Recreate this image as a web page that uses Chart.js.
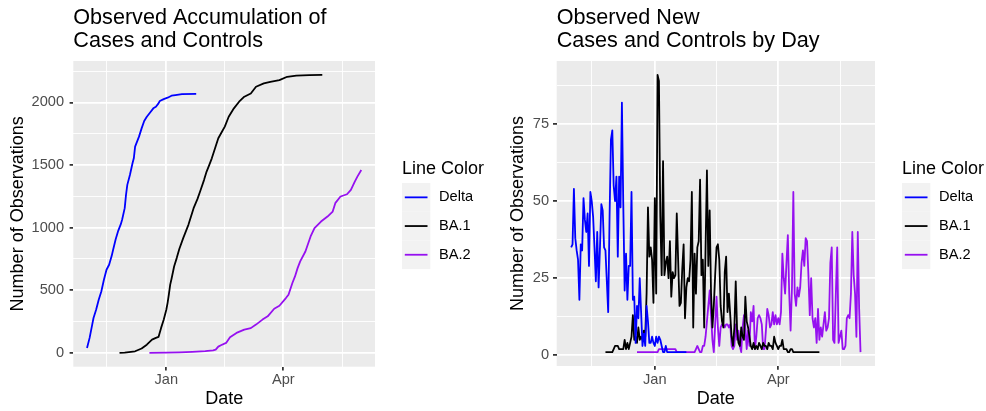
<!DOCTYPE html>
<html>
<head>
<meta charset="utf-8">
<title>Observed cases and controls</title>
<script src="https://cdn.jsdelivr.net/npm/chart.js@4.4.1/dist/chart.umd.min.js"></script>
<style>
  html, body { margin: 0; padding: 0; background: #ffffff; }
  #wrap { position: relative; width: 986px; height: 411px; }
  canvas { position: absolute; top: 0; }
  #accChart { left: 0; }
  #newChart { left: 493px; }
</style>
</head>
<body>
<div id="wrap">
  <canvas id="accChart" width="493" height="411"></canvas>
  <canvas id="newChart" width="493" height="411"></canvas>
</div>
<script>
// Days are counted from 1 Jan 2022 (day 0)
const dayMin = -71.55;
const dayMax = 160.55;
const monthDays = [0, 90];
const monthLabels = ["Jan", "Apr"];
const minorDays = [-46, 45, 135.5];

const seriesNames = ["Delta", "BA.1", "BA.2"];
const seriesColors = ["#0000FF", "#000000", "#9610F0"];

// New observations per day (right panel), first value is on the start day
const deltaStart = -61;
const deltaNew = [
  35, 36, 54, 38, 34, 31, 18, 36, 34, 51,
  44, 40, 46, 29, 53, 50, 45, 35, 24, 40,
  22, 35, 49, 47, 35, 34, 24, 14, 45, 70,
  73, 55, 50, 58, 32, 58, 48, 82, 49, 21,
  33, 18, 29, 29, 53, 18, 19, 4, 16, 12,
  25, 14, 3, 7, 3, 16, 11, 4, 4, 6,
  4, 3, 6, 4, 6, 5, 3, 1, 1, 3,
  1, 1, 1, 1, 1, 1, 1, 1, 1, 1,
  1, 1, 1, 1, 1
];

const ba1Start = -36;
const ba1New = [
  1, 1, 1, 1, 1, 1,
  2, 3, 3, 3, 2, 2, 2, 2,
  5, 2, 4, 2, 4, 6, 13, 5, 6, 4, 9, 5, 6, 5, 8, 6, 20,
  48, 32, 35, 31, 17, 51, 20, 91, 89,
  45, 26, 63, 26, 30, 32, 25, 37, 19, 27,
  25, 26, 46, 31, 16, 17, 28, 36, 12, 22,
  25, 24, 31, 53, 9, 33, 20, 35, 37, 57,
  26, 31, 9, 35, 60, 29, 47, 20, 9, 16,
  26, 35, 36, 31,
  16, 11, 9, 27, 32, 14, 20, 13, 6, 3,
  9, 24, 8, 4, 3, 9, 6, 5, 19, 11,
  9, 6, 3, 2, 4, 2, 3, 2, 4, 3,
  2, 4, 3, 3, 2, 4, 3, 3, 2, 6,
  4, 3, 2, 3, 3, 5, 2, 2, 2, 1,
  1, 2, 2, 1,
  1, 1, 1, 1, 1, 1, 1, 1, 1, 1,
  1, 1, 1, 1, 1, 1, 1, 1, 1
];

const ba2Start = -13;
const ba2New = [
  1, 1, 1, 1, 1, 1, 1, 1, 1, 1, 1, 1, 1, 1, 1, 1,
  2, 2, 2, 2, 2, 2, 2, 2, 2, 2, 2, 2, 2,
  1,
  1, 1, 1, 1, 1, 1, 1, 1, 1, 1, 1, 1, 1,
  2, 3, 2, 1, 1, 3,
  3, 6, 11, 16, 21, 13, 5, 1, 10, 19,
  9, 3, 9, 10, 10, 9, 10, 10, 9, 10,
  3, 2, 3, 10, 5, 8, 3, 1, 9, 13,
  9, 2, 8, 3, 14, 11, 16, 2, 6, 12,
  13, 12, 10, 2, 2, 8, 15, 13, 9, 10,
  14, 10, 13, 10, 12, 10,
  14, 33, 25, 20, 30, 39, 20, 8, 22,
  53, 20, 16, 22, 19, 22, 30, 34, 29, 38,
  37, 26, 13, 25, 12, 9, 12, 4, 15, 5,
  9, 6, 10, 14, 8, 9, 12,
  30, 35, 5, 4, 20, 35, 4, 6, 8, 2,
  2, 3, 12, 13, 12, 20, 40, 26, 20, 6,
  40, 15, 1
];

// Running totals (left panel)
const deltaAccDays = [-61, -59, -57, -56, -54, -52, -50, -48, -46, -44,
  -42, -41, -39, -37, -35, -34, -32, -31, -30, -28,
  -26, -25, -24, -21, -19, -17, -15, -12, -10, -8,
  -6, -5, -2, 1, 4, 7, 12, 23];
const deltaAcc = [40, 120, 226, 279, 345, 425, 491, 584, 664, 704,
  775, 820, 905, 975, 1028, 1063, 1156, 1262, 1342, 1421,
  1514, 1554, 1647, 1727, 1793, 1852, 1886, 1926, 1953, 1966,
  1993, 2012, 2027, 2038, 2054, 2059, 2067, 2068];

const ba1AccDays = [-36, -32, -24, -19, -15, -11, -8, -6, -4, -2,
  0, 1, 2, 3, 4, 6, 8, 10, 13, 17,
  21, 24, 26, 29, 31, 33, 35, 38, 40, 43,
  45, 48, 52, 56, 60, 65, 69, 75, 80, 87,
  93, 100, 110, 120];
const ba1Acc = [1, 3, 13, 35, 66, 106, 120, 128, 200, 265,
  345, 400, 470, 545, 590, 690, 757, 830, 917, 1023,
  1156, 1230, 1289, 1380, 1448, 1500, 1554, 1650, 1714, 1770,
  1807, 1886, 1953, 2006, 2046, 2072, 2125, 2152, 2165, 2178,
  2205, 2215, 2219, 2220];

const ba2AccDays = [-13, 0, 10, 20, 30, 36, 38, 40, 42, 46,
  49, 54, 60, 65, 69, 74, 78, 83, 87, 92,
  94, 97, 99, 101, 103, 107, 111, 114, 119, 124,
  128, 130, 134, 139, 142, 145, 147, 150];
const ba2Acc = [1, 2, 5, 9, 14, 20, 26, 50, 61, 80,
  125, 160, 186, 198, 226, 266, 292, 353, 377, 438,
  465, 558, 611, 677, 731, 810, 930, 996, 1049, 1089,
  1129, 1196, 1249, 1267, 1302, 1368, 1408, 1461];

// y axis breaks
const accTicks = [0, 500, 1000, 1500, 2000];
const accMinor = [250, 750, 1250, 1750, 2250];
const newTicks = [0, 25, 50, 75];
const newMinor = [12.5, 37.5, 62.5, 87.5];

const FONT = '"Liberation Sans", Arial, Helvetica, sans-serif';
Chart.defaults.font.family = FONT;

function dailyPoints(start, values) {
  return values.map((v, i) => ({ x: start + i, y: v }));
}

function pairPoints(days, values) {
  return days.map((d, i) => ({ x: d, y: values[i] }));
}

function makeDatasets(pointLists) {
  return pointLists.map((pts, i) => ({
    label: seriesNames[i],
    data: pts,
    borderColor: seriesColors[i],
    backgroundColor: seriesColors[i],
    borderWidth: 1.8,
    borderJoinStyle: "round",
    pointRadius: 0,
    tension: 0,
  }));
}

// grey panel, title and legend drawn the ggplot way
const ggPanel = {
  id: "ggPanel",
  beforeDraw(chart) {
    const { ctx, chartArea: a } = chart;
    ctx.save();
    ctx.fillStyle = "#EBEBEB";
    ctx.fillRect(a.left, a.top, a.right - a.left, a.bottom - a.top);
    ctx.restore();
  },
  afterDraw(chart, args, opts) {
    const { ctx, chartArea: a } = chart;
    ctx.save();
    ctx.fillStyle = "#000000";
    ctx.textAlign = "left";
    ctx.textBaseline = "alphabetic";
    ctx.font = "21.6px " + FONT;
    opts.title.forEach((line, i) => ctx.fillText(line, a.left, 24 + i * 23));

    const lx = a.right + 27;
    ctx.font = "18px " + FONT;
    ctx.fillText("Line Color", lx, 174);

    const keyTop = 183;
    const keyH = 28.7;
    const keyW = 28.3;
    chart.data.datasets.forEach((ds, i) => {
      const top = keyTop + i * keyH;
      const mid = top + keyH / 2;
      ctx.fillStyle = "#F2F2F2";
      ctx.fillRect(lx, top, keyW, keyH);
      ctx.strokeStyle = ds.borderColor;
      ctx.lineWidth = 1.8;
      ctx.beginPath();
      ctx.moveTo(lx + 2.8, mid);
      ctx.lineTo(lx + keyW - 2.8, mid);
      ctx.stroke();
      ctx.fillStyle = "#000000";
      ctx.font = "14.6px " + FONT;
      ctx.textBaseline = "middle";
      ctx.fillText(ds.label, lx + 37, mid);
    });
    ctx.restore();
  },
};

function gridOptions(major) {
  const isMajor = (c) => c.tick && major.includes(c.tick.value);
  return {
    color: "#FFFFFF",
    lineWidth: (c) => (isMajor(c) ? 1.77 : 0.89),
    tickColor: (c) => (isMajor(c) ? "#333333" : "rgba(0,0,0,0)"),
    tickWidth: 1.77,
    tickLength: 3.7,
    drawTicks: true,
  };
}

function makeChart(id, cfg) {
  return new Chart(document.getElementById(id), {
    type: "line",
    data: { datasets: cfg.datasets },
    options: {
      responsive: false,
      animation: false,
      events: [],
      layout: { padding: { left: 0, top: 61, right: cfg.padRight, bottom: 0 } },
      plugins: {
        legend: { display: false },
        tooltip: { enabled: false },
        ggPanel: { title: cfg.title },
      },
      scales: {
        x: {
          type: "linear",
          min: dayMin,
          max: dayMax,
          border: { display: false },
          grid: gridOptions(monthDays),
          afterBuildTicks: (scale) => {
            scale.ticks = monthDays.concat(minorDays).map((v) => ({ value: v }));
          },
          afterFit: (scale) => {
            scale.height = cfg.xHeight;
          },
          ticks: {
            autoSkip: false,
            maxRotation: 0,
            padding: cfg.xPad,
            color: "#4D4D4D",
            font: { size: 14.6 },
            callback: (v) => {
              const i = monthDays.indexOf(v);
              return i >= 0 ? monthLabels[i] : "";
            },
          },
          title: {
            display: true,
            text: "Date",
            color: "#000000",
            font: { size: 18 },
            padding: { top: 0, bottom: 1.4 },
          },
        },
        y: {
          type: "linear",
          min: cfg.yMin,
          max: cfg.yMax,
          border: { display: false },
          grid: gridOptions(cfg.yTicks),
          afterBuildTicks: (scale) => {
            scale.ticks = cfg.yTicks.concat(cfg.yMinor).map((v) => ({ value: v }));
          },
          afterFit: (scale) => {
            scale.width = cfg.yWidth;
          },
          ticks: {
            autoSkip: false,
            padding: cfg.yPad,
            color: "#4D4D4D",
            font: { size: 14.6 },
            callback: (v) => (cfg.yTicks.includes(v) ? String(v) : ""),
          },
          title: {
            display: true,
            text: "Number of Observations",
            color: "#000000",
            font: { size: 18 },
            padding: { top: cfg.yTitlePad, bottom: 0 },
          },
        },
      },
    },
    plugins: [ggPanel],
  });
}

makeChart("accChart", {
  title: ["Observed Accumulation of", "Cases and Controls"],
  datasets: makeDatasets([
    pairPoints(deltaAccDays, deltaAcc),
    pairPoints(ba1AccDays, ba1Acc),
    pairPoints(ba2AccDays, ba2Acc),
  ]),
  yMin: -110,
  yMax: 2331,
  yTicks: accTicks,
  yMinor: accMinor,
  yWidth: 73.3,
  yPad: 5.6,
  yTitlePad: 7.5,
  xHeight: 44.3,
  xPad: 1.1,
  padRight: 118,
});

makeChart("newChart", {
  title: ["Observed New", "Cases and Controls by Day"],
  datasets: makeDatasets([
    dailyPoints(deltaStart, deltaNew),
    dailyPoints(ba1Start, ba1New),
    dailyPoints(ba2Start, ba2New),
  ]),
  yMin: -3.5,
  yMax: 95.5,
  yTicks: newTicks,
  yMinor: newMinor,
  yWidth: 63.7,
  yPad: 4,
  yTitlePad: 14.2,
  xHeight: 45,
  xPad: 1.5,
  padRight: 111,
});
</script>
</body>
</html>
